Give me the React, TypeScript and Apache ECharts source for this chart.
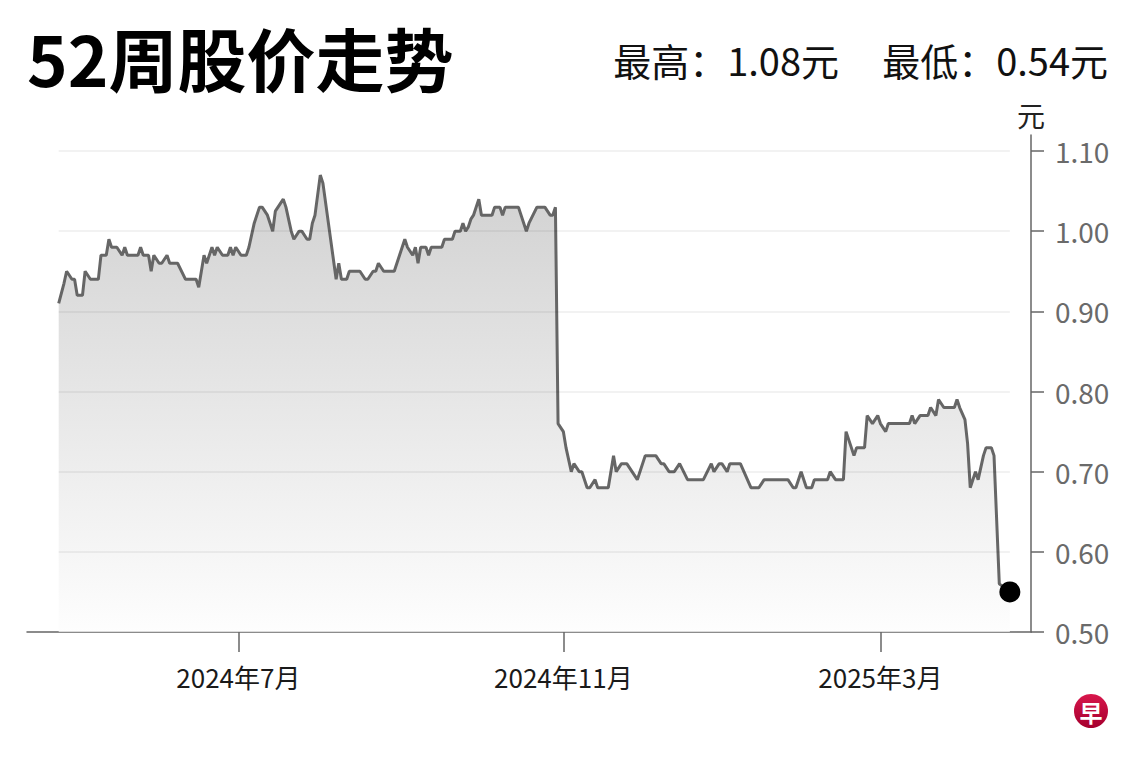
import React, { useEffect, useRef } from 'react';
import * as echarts from 'echarts';

// 52-week daily close (SGD)
const dates = [
  '2024-04-24', '2024-04-26', '2024-04-27', '2024-04-28', '2024-04-29', '2024-04-30', '2024-05-01', '2024-05-03',
  '2024-05-04', '2024-05-06', '2024-05-09', '2024-05-10', '2024-05-12', '2024-05-13', '2024-05-14', '2024-05-16',
  '2024-05-18', '2024-05-19', '2024-05-20', '2024-05-24', '2024-05-25', '2024-05-26', '2024-05-28', '2024-05-29',
  '2024-05-30', '2024-06-01', '2024-06-02', '2024-06-04', '2024-06-05', '2024-06-08', '2024-06-11', '2024-06-15',
  '2024-06-16', '2024-06-18', '2024-06-19', '2024-06-21', '2024-06-22', '2024-06-23', '2024-06-25', '2024-06-27',
  '2024-06-28', '2024-06-29', '2024-06-30', '2024-07-02', '2024-07-04', '2024-07-05', '2024-07-07', '2024-07-09',
  '2024-07-10', '2024-07-12', '2024-07-14', '2024-07-15', '2024-07-18', '2024-07-19', '2024-07-21', '2024-07-22',
  '2024-07-24', '2024-07-25', '2024-07-27', '2024-07-28', '2024-07-29', '2024-07-30', '2024-08-01', '2024-08-02',
  '2024-08-07', '2024-08-08', '2024-08-09', '2024-08-11', '2024-08-12', '2024-08-16', '2024-08-18', '2024-08-19',
  '2024-08-21', '2024-08-22', '2024-08-23', '2024-08-25', '2024-08-29', '2024-08-31', '2024-09-02', '2024-09-03',
  '2024-09-05', '2024-09-06', '2024-09-07', '2024-09-08', '2024-09-10', '2024-09-11', '2024-09-12', '2024-09-16',
  '2024-09-17', '2024-09-20', '2024-09-21', '2024-09-23', '2024-09-24', '2024-09-25', '2024-09-26', '2024-09-27',
  '2024-09-28', '2024-09-30', '2024-10-01', '2024-10-05', '2024-10-06', '2024-10-08', '2024-10-09', '2024-10-10',
  '2024-10-15', '2024-10-18', '2024-10-19', '2024-10-22', '2024-10-25', '2024-10-27', '2024-10-28', '2024-10-29',
  '2024-10-30', '2024-11-01', '2024-11-02', '2024-11-04', '2024-11-05', '2024-11-07', '2024-11-08', '2024-11-10',
  '2024-11-11', '2024-11-13', '2024-11-14', '2024-11-18', '2024-11-20', '2024-11-21', '2024-11-23', '2024-11-25',
  '2024-11-27', '2024-11-29', '2024-12-02', '2024-12-06', '2024-12-08', '2024-12-09', '2024-12-11', '2024-12-13',
  '2024-12-15', '2024-12-18', '2024-12-24', '2024-12-27', '2024-12-28', '2024-12-30', '2024-12-31', '2025-01-02',
  '2025-01-03', '2025-01-07', '2025-01-11', '2025-01-14', '2025-01-16', '2025-01-25', '2025-01-27', '2025-01-28',
  '2025-01-30', '2025-02-01', '2025-02-03', '2025-02-04', '2025-02-09', '2025-02-10', '2025-02-12', '2025-02-15',
  '2025-02-16', '2025-02-17', '2025-02-19', '2025-02-20', '2025-02-23', '2025-02-24', '2025-02-26', '2025-02-28',
  '2025-03-01', '2025-03-03', '2025-03-04', '2025-03-12', '2025-03-13', '2025-03-14', '2025-03-16', '2025-03-19',
  '2025-03-20', '2025-03-22', '2025-03-23', '2025-03-25', '2025-03-29', '2025-03-30', '2025-03-31', '2025-04-02',
  '2025-04-03', '2025-04-04', '2025-04-06', '2025-04-07', '2025-04-09', '2025-04-10', '2025-04-12', '2025-04-13',
  '2025-04-15', '2025-04-19',
];

const prices = [
  0.91, 0.935, 0.95, 0.945, 0.94, 0.94, 0.92, 0.92,
  0.95, 0.94, 0.94, 0.97, 0.97, 0.99, 0.98, 0.98,
  0.97, 0.98, 0.97, 0.97, 0.98, 0.97, 0.97, 0.95,
  0.97, 0.96, 0.96, 0.97, 0.96, 0.96, 0.94, 0.94,
  0.93, 0.97, 0.96, 0.98, 0.97, 0.98, 0.97, 0.97,
  0.98, 0.97, 0.98, 0.97, 0.97, 0.98, 1.01, 1.03,
  1.03, 1.02, 1.0, 1.025, 1.04, 1.03, 1.0, 0.99,
  1.0, 1.0, 0.99, 0.99, 1.01, 1.02, 1.07, 1.06,
  0.94, 0.96, 0.94, 0.94, 0.95, 0.95, 0.94, 0.94,
  0.95, 0.95, 0.96, 0.95, 0.95, 0.97, 0.99, 0.98,
  0.97, 0.98, 0.96, 0.98, 0.98, 0.97, 0.98, 0.98,
  0.99, 0.99, 1.0, 1.0, 1.01, 1.0, 1.005, 1.015,
  1.02, 1.04, 1.02, 1.02, 1.03, 1.03, 1.02, 1.03,
  1.03, 1.0, 1.01, 1.03, 1.03, 1.02, 1.02, 1.03,
  0.76, 0.75, 0.73, 0.7, 0.71, 0.7, 0.7, 0.68,
  0.68, 0.69, 0.68, 0.68, 0.72, 0.7, 0.71, 0.71,
  0.7, 0.69, 0.72, 0.72, 0.71, 0.71, 0.7, 0.7,
  0.71, 0.69, 0.69, 0.71, 0.7, 0.71, 0.71, 0.7,
  0.71, 0.71, 0.68, 0.68, 0.69, 0.69, 0.68, 0.68,
  0.7, 0.68, 0.68, 0.69, 0.69, 0.7, 0.69, 0.69,
  0.75, 0.74, 0.72, 0.73, 0.73, 0.77, 0.76, 0.77,
  0.76, 0.75, 0.76, 0.76, 0.77, 0.76, 0.77, 0.77,
  0.78, 0.77, 0.79, 0.78, 0.78, 0.79, 0.78, 0.765,
  0.735, 0.68, 0.7, 0.69, 0.72, 0.73, 0.73, 0.72,
  0.56, 0.55,
];

const high52 = 1.08;
const low52 = 0.54;

const yTicks = [0.5, 0.6, 0.7, 0.8, 0.9, 1.0, 1.1];
const xTickDates = ['2024-07-01', '2024-11-01', '2025-03-01'];
const xTickLabels = ['2024年7月', '2024年11月', '2025年3月'];

const FONT = '"Noto Sans CJK SC", "Noto Sans", sans-serif';

const ts = (s: string) => {
  const [y, m, d] = s.split('-').map(Number);
  return new Date(y, m - 1, d).getTime();
};

const App: React.FC = () => {
  const chartRef = useRef<HTMLDivElement>(null);

  useEffect(() => {
    if (!chartRef.current) return;
    const chart = echarts.init(chartRef.current, undefined, { renderer: 'svg' });

    const seriesData = dates.map((d, i) => [ts(d), prices[i]]);
    const first = seriesData[0][0];
    const last = seriesData[seriesData.length - 1];
    const xTickValues = xTickDates.map(ts);

    const option: echarts.EChartsOption = {
      animation: false,
      backgroundColor: '#fff',
      textStyle: { fontFamily: FONT },
      title: [
        {
          text: '52周股价走势',
          left: 27,
          top: 22,
          padding: 0,
          textStyle: { fontSize: 69, lineHeight: 69, fontWeight: 'bold', color: '#000', fontFamily: FONT },
        },
        {
          text: `最高：${high52.toFixed(2)}元`,
          right: 301,
          top: 40,
          padding: 0,
          textStyle: { fontSize: 38, lineHeight: 38, fontWeight: 'normal', color: '#111', fontFamily: FONT },
        },
        {
          text: `最低：${low52.toFixed(2)}元`,
          right: 32,
          top: 40,
          padding: 0,
          textStyle: { fontSize: 38, lineHeight: 38, fontWeight: 'normal', color: '#111', fontFamily: FONT },
        },
      ],
      grid: { left: 27, right: 109, top: 135, bottom: 128, containLabel: false },
      xAxis: {
        // timestamps on a value axis so ticks can sit on exact month starts
        type: 'value',
        min: ts('2024-04-12'),
        max: ts('2025-04-27'),
        axisLine: { lineStyle: { color: '#666', width: 1.5 } },
        axisTick: {
          show: true,
          length: 20,
          lineStyle: { color: '#666', width: 1.5 },
          customValues: xTickValues,
        } as any,
        axisLabel: {
          customValues: xTickValues,
          fontSize: 26,
          color: '#1a1a1a',
          margin: 31,
          fontFamily: FONT,
          formatter: (v: number) => {
            const i = xTickValues.indexOf(v);
            return i >= 0 ? xTickLabels[i] : '';
          },
        } as any,
        splitLine: { show: false },
      },
      yAxis: {
        type: 'value',
        position: 'right',
        min: 0.5,
        max: 1.12,
        name: '元',
        nameLocation: 'end',
        nameGap: 6,
        nameTextStyle: { fontSize: 28, color: '#222', align: 'center', fontFamily: FONT },
        axisLine: { show: true, lineStyle: { color: '#666', width: 1.5 } },
        axisTick: {
          show: true,
          length: 13,
          lineStyle: { color: '#666', width: 1.5 },
          customValues: yTicks,
        } as any,
        axisLabel: {
          customValues: yTicks,
          fontSize: 28,
          color: '#6a6a6a',
          margin: 24,
          fontFamily: FONT,
          formatter: (v: number) => v.toFixed(2),
        } as any,
        splitLine: { show: false },
      },
      series: [
        {
          type: 'line',
          data: seriesData,
          symbol: 'none',
          silent: true,
          lineStyle: { color: '#666', width: 3 },
          areaStyle: {
            color: new echarts.graphic.LinearGradient(0, 0, 0, 1, [
              { offset: 0, color: '#bdbdbd' },
              { offset: 1, color: '#fdfdfd' },
            ]),
          },
          markLine: {
            silent: true,
            symbol: ['none', 'none'],
            label: { show: false },
            lineStyle: { color: 'rgba(0,0,0,0.07)', width: 1.5, type: 'solid' },
            data: yTicks
              .filter((v) => v > yTicks[0])
              .map((v) => [{ coord: [first, v] }, { coord: [last[0], v] }]) as any,
          },
          z: 2,
        },
        {
          type: 'scatter',
          data: [last],
          symbol: 'circle',
          symbolSize: 21,
          silent: true,
          itemStyle: { color: '#000', opacity: 1 },
          z: 5,
        },
      ],
      graphic: [
        {
          type: 'circle',
          shape: { cx: 1091, cy: 711, r: 17 },
          style: {
            fill: new echarts.graphic.LinearGradient(0, 0, 0, 1, [
              { offset: 0, color: '#d8164c' },
              { offset: 1, color: '#a5002e' },
            ]),
          },
        },
        {
          type: 'text',
          x: 1091,
          y: 712,
          style: {
            text: '早',
            fill: '#fff',
            fontSize: 23,
            fontWeight: 'bold',
            fontFamily: FONT,
            align: 'center',
            verticalAlign: 'middle',
          } as any,
        },
      ],
    };

    chart.setOption(option);
    return () => chart.dispose();
  }, []);

  return (
    <div
      ref={chartRef}
      style={{ position: 'fixed', left: 0, top: 0, width: 1140, height: 760, background: '#fff' }}
    />
  );
};

export default App;
